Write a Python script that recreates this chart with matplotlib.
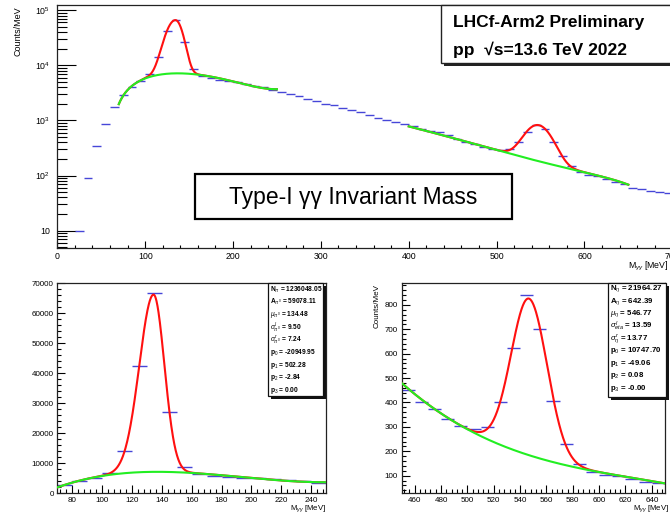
# -*- coding: utf-8 -*-
import numpy as np
import matplotlib
matplotlib.use("Agg")
import matplotlib.pyplot as plt
from matplotlib.patches import Rectangle
from matplotlib.transforms import Affine2D
from matplotlib.ticker import MultipleLocator, FixedLocator, FuncFormatter, NullFormatter, LogLocator

plt.rcParams['font.family'] = ['Liberation Sans', 'DejaVu Sans']
plt.rcParams['mathtext.fontset'] = 'custom'
plt.rcParams['mathtext.rm'] = 'Liberation Sans'
plt.rcParams['mathtext.it'] = 'Liberation Sans:italic'
plt.rcParams['mathtext.bf'] = 'Liberation Sans:bold'

# ---- data: gamma-gamma invariant mass histogram, 10 MeV bins (lower edges), Counts/MeV
bin_lo = [20, 30, 40, 50, 60, 70, 80, 90, 100, 110, 120, 130, 140, 150, 160, 170,
          180, 190, 200, 210, 220, 230, 240, 250, 260, 270, 280, 290, 300, 310, 320,
          330, 340, 350, 360, 370, 380, 390, 400, 410, 420, 430, 440, 450, 460, 470,
          480, 490, 500, 510, 520, 530, 540, 550, 560, 570, 580, 590, 600, 610, 620,
          630, 640, 650, 660, 670, 680, 690]
counts = [10, 92, 345, 870, 1720, 2850, 4020, 5100, 6900, 14000, 42300, 66800, 27000,
          8660, 6440, 5800, 5450, 5200, 5000, 4650, 4300, 4050, 3570, 3230, 2970, 2730,
          2450, 2250, 1990, 1870, 1680, 1545, 1400, 1270, 1120, 1017, 947, 846, 778, 706,
          650, 605, 534, 452, 403, 373, 331, 304, 290, 298, 403, 625, 841, 703, 406, 228,
          148, 116, 101, 99, 85, 75, 69, 59, 56, 53, 51, 49]
bin_w = 10

# ---- fit results (as shown in the stat boxes; p3 / p2 estimated beyond the printed rounding)
pi0_gaus = [59078.11, 134.48, 9.50, 7.24]        # A, mu, sigma_l, sigma_r
pi0_poly = [-20949.95, 502.28, -2.84, 0.0049]     # p0..p3
pi0_range = [70, 250]
eta_gaus = [642.39, 546.77, 13.59, 13.77]
eta_poly = [10747.70, -49.06, 0.07659, -4.06e-5]
eta_range_top = [400, 650]
eta_range = [450, 650]

pi0_stats = [r"N$_{\pi}$ = 1236048.05", r"A$_{\pi^0}$ = 59078.11", r"$\mu_{\pi^0}$ = 134.48",
             r"$\sigma^l_{\pi^0}$ = 9.50", r"$\sigma^r_{\pi^0}$ = 7.24", r"p$_0$ = -20949.95",
             r"p$_1$ = 502.28", r"p$_2$ = -2.84", r"p$_3$ = 0.00"]
eta_stats = [r"N$_{\eta}$ = 21964.27", r"A$_{\eta}$ = 642.39", r"$\mu_{\eta}$ = 546.77",
             r"$\sigma^l_{eta}$ = 13.59", r"$\sigma^r_{\eta}$ = 13.77", r"p$_0$ = 10747.70",
             r"p$_1$ = -49.06", r"p$_2$ = 0.08", r"p$_3$ = -0.00"]

DATA_COL = '#4646d8'
RED = '#ff1010'
GREEN = '#22ee22'


def background(x, p):
    return p[0] + p[1] * x + p[2] * x ** 2 + p[3] * x ** 3


def signal(x, g):
    a, mu, sl, sr = g
    s = np.where(x < mu, sl, sr)
    return a * np.exp(-0.5 * ((x - mu) / s) ** 2)


def draw_fit(ax, gaus, poly, xr):
    x = np.linspace(xr[0], xr[1], 800)
    bkg = background(x, poly)
    ax.plot(x, bkg + signal(x, gaus), color=RED, lw=1.5, zorder=3)
    ax.plot(x, bkg, color=GREEN, lw=1.5, zorder=4)


def draw_data(ax):
    centers = np.array(bin_lo) + bin_w / 2
    ax.errorbar(centers, counts, xerr=bin_w / 2, fmt='none', ecolor=DATA_COL,
                elinewidth=1.0, capsize=0, zorder=2)


W, H = 670, 515
fig = plt.figure(figsize=(6.7, 5.15), dpi=100)
pix = Affine2D().scale(1.0 / W, -1.0 / H).translate(0, 1) + fig.transFigure


def px_axes(l, t, r, b):
    return fig.add_axes([l / W, 1 - b / H, (r - l) / W, (b - t) / H])


def style_frame(ax):
    for sp in ax.spines.values():
        sp.set_linewidth(0.9)
        sp.set_color('#222222')


# ---------------- top panel ----------------
ax = px_axes(57.3, 4.7, 672.3, 248)
draw_data(ax)
draw_fit(ax, pi0_gaus, pi0_poly, pi0_range)
draw_fit(ax, eta_gaus, eta_poly, eta_range_top)
ax.set_yscale('log')
ax.set_xlim(0, 700)
ax.set_ylim(4.84, 1.26e5)
ax.xaxis.set_major_locator(MultipleLocator(100))
ax.xaxis.set_minor_locator(MultipleLocator(20))
ax.yaxis.set_major_locator(FixedLocator([10, 100, 1000, 1e4, 1e5]))
ax.yaxis.set_minor_locator(LogLocator(base=10, subs=np.arange(2, 10)))
ax.yaxis.set_minor_formatter(NullFormatter())
ax.yaxis.set_major_formatter(FuncFormatter(
    lambda v, p: "10" if abs(v - 10) < 1e-6 else r"$10^{%d}$" % int(round(np.log10(v)))))
ax.tick_params(axis='x', which='major', direction='in', length=5, width=0.8, labelsize=6.3, pad=3)
ax.tick_params(axis='x', which='minor', direction='in', length=2.5, width=0.8)
ax.tick_params(axis='y', which='major', direction='in', length=14, width=0.8, labelsize=6.3, pad=5)
ax.tick_params(axis='y', which='minor', direction='in', length=7, width=0.8)
style_frame(ax)

fig.text(18, 6, "Counts/MeV", transform=pix, rotation=90, ha='center', va='top', fontsize=6.5)
fig.text(669, 266, r"M$_{\gamma\gamma}$ [MeV]", transform=pix, ha='right', va='center', fontsize=6.3)

# LHCf label box with shadow
fig.add_artist(Rectangle((444, 7.7), 260, 58.6, transform=pix, facecolor='#222222',
                         edgecolor='none', zorder=5))
fig.add_artist(Rectangle((441, 4.7), 260, 58.6, transform=pix, facecolor='white',
                         edgecolor='#222222', lw=1.0, zorder=6))
fig.text(453, 27, "LHCf-Arm2 Preliminary", transform=pix, ha='left', va='baseline',
         fontsize=12.5, fontweight='bold', zorder=7)
fig.text(453, 54.5, "pp  \u221as=13.6 TeV 2022", transform=pix, ha='left', va='baseline',
         fontsize=12.5, fontweight='bold', zorder=7)

# title box
fig.add_artist(Rectangle((195, 174), 317, 45, transform=pix, facecolor='white',
                         edgecolor='black', lw=1.6, zorder=6))
fig.text(353.5, 204, "Type-I \u03b3\u03b3 Invariant Mass", transform=pix, ha='center',
         va='baseline', fontsize=16.5, zorder=7)

# ---------------- bottom left (pi0) ----------------
ax = px_axes(57.3, 283.3, 326, 493.3)
draw_data(ax)
draw_fit(ax, pi0_gaus, pi0_poly, pi0_range)
ax.set_xlim(70, 250)
ax.set_ylim(0, 70000)
ax.xaxis.set_major_locator(MultipleLocator(20))
ax.xaxis.set_minor_locator(MultipleLocator(4))
ax.yaxis.set_major_locator(MultipleLocator(10000))
ax.yaxis.set_minor_locator(MultipleLocator(2000))
ax.tick_params(which='major', direction='in', length=6, width=0.8, labelsize=5.8, pad=2.5)
ax.tick_params(which='minor', direction='in', length=3, width=0.8)
style_frame(ax)
fig.text(326, 509, r"M$_{\gamma\gamma}$ [MeV]", transform=pix, ha='right', va='center', fontsize=5.6)

# ---------------- bottom right (eta) ----------------
ax = px_axes(401.5, 283.3, 665, 493.3)
draw_data(ax)
draw_fit(ax, eta_gaus, eta_poly, eta_range)
ax.set_xlim(450, 650)
ax.set_ylim(27.5, 889)
ax.xaxis.set_major_locator(MultipleLocator(20))
ax.xaxis.set_minor_locator(MultipleLocator(4))
ax.yaxis.set_major_locator(MultipleLocator(100))
ax.yaxis.set_minor_locator(MultipleLocator(20))
ax.tick_params(which='major', direction='in', length=6, width=0.8, labelsize=5.8, pad=2.5)
ax.tick_params(which='minor', direction='in', length=3, width=0.8)
style_frame(ax)
fig.text(377, 284, "Counts/MeV", transform=pix, rotation=90, ha='center', va='top', fontsize=5.8)
fig.text(669, 509, r"M$_{\gamma\gamma}$ [MeV]", transform=pix, ha='right', va='center', fontsize=5.6)


# ---------------- stat boxes ----------------
def stat_box(l, t, r, b, lines, x0, y0, dy, fs):
    fig.add_artist(Rectangle((l + 3, t + 3), r - l, b - t, transform=pix, facecolor='#111111',
                             edgecolor='none', zorder=5))
    fig.add_artist(Rectangle((l, t), r - l, b - t, transform=pix, facecolor='white',
                             edgecolor='#111111', lw=0.9, zorder=6))
    for i, s in enumerate(lines):
        fig.text(x0, y0 + i * dy, s, transform=pix, ha='left', va='center', fontsize=fs,
                 fontweight='bold', zorder=7)


stat_box(268.3, 283.3, 322.8, 396, pi0_stats, 269.8, 289.5, 12.6, 4.8)
stat_box(608.3, 283.3, 666, 396.7, eta_stats, 609.6, 289, 12.4, 5.7)

fig.savefig("out.png", dpi=100)
